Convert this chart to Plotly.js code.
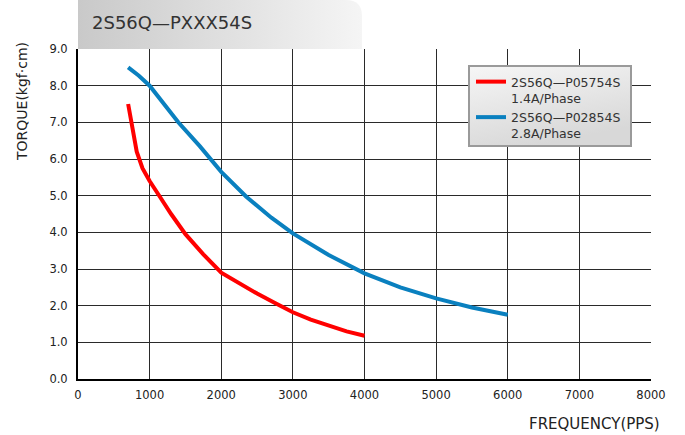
<!DOCTYPE html>
<html>
<head>
<meta charset="utf-8">
<script src="https://cdn.plot.ly/plotly-3.0.1.min.js"></script>
<style>html,body{margin:0;padding:0;background:#fff;}#chart{width:685px;height:435px;}</style>
</head>
<body>
<div id="chart"></div>
<script>
// ---- data ----
const chartTitle = "2S56Q\u2014PXXX54S";
const series1Name = "2S56Q\u2014P05754S<br>1.4A/Phase";
const series2Name = "2S56Q\u2014P02854S<br>2.8A/Phase";
const redX = [700, 760, 820, 900, 1000, 1150, 1300, 1500, 1750, 2000, 2250, 2500, 2750, 3000, 3250, 3500, 3750, 4000];
const redY = [7.5, 6.85, 6.2, 5.75, 5.4, 4.95, 4.5, 3.95, 3.4, 2.9, 2.6, 2.33, 2.07, 1.82, 1.62, 1.45, 1.3, 1.18];
const blueX = [700, 850, 1000, 1200, 1400, 1700, 2000, 2350, 2700, 3000, 3500, 4000, 4500, 5000, 5500, 6000];
const blueY = [8.5, 8.27, 8.0, 7.5, 7.0, 6.35, 5.65, 4.97, 4.4, 3.97, 3.38, 2.88, 2.5, 2.2, 1.95, 1.75];
const xTicks = [0, 1000, 2000, 3000, 4000, 5000, 6000, 7000, 8000];
const yTicks = [0, 1, 2, 3, 4, 5, 6, 7, 8, 9];
const yTickText = ["0.0", "1.0", "2.0", "3.0", "4.0", "5.0", "6.0", "7.0", "8.0", "9.0"];

// ---- decorations ----
function svgUri(s){ return "data:image/svg+xml;utf8," + encodeURIComponent(s); }
const tabSvg = '<svg xmlns="http://www.w3.org/2000/svg" width="284" height="49" viewBox="0 0 284 49">' +
  '<defs><linearGradient id="g" x1="0" y1="0" x2="1" y2="0"><stop offset="0" stop-color="#c9c9c9"/><stop offset="1" stop-color="#f5f5f5"/></linearGradient></defs>' +
  '<path d="M0 0 H268 Q284 0 284 16 V49 H0 Z" fill="url(#g)"/></svg>';
const legSvg = '<svg xmlns="http://www.w3.org/2000/svg" width="164" height="82" viewBox="0 0 164 82">' +
  '<defs><linearGradient id="h" x1="0" y1="0" x2="0.4" y2="1"><stop offset="0" stop-color="#f6f6f6"/><stop offset="1" stop-color="#d8d8d8"/></linearGradient></defs>' +
  '<rect x="1" y="1" width="162" height="80" fill="url(#h)" stroke="#9a9a9a" stroke-width="2"/></svg>';

const L = 78, R = 651, T = 49, B = 379;
const px = v => (v - L) / (R - L);
const py = v => (B - v) / (B - T);

const font = "DejaVu Sans, sans-serif";
const data = [
  {x: redX, y: redY, name: series1Name, type: "scatter", mode: "lines",
   line: {color: "#ff0000", width: 4}},
  {x: blueX, y: blueY, name: series2Name, type: "scatter", mode: "lines",
   line: {color: "#0a80bf", width: 4}}
];
const layout = {
  width: 685, height: 435,
  margin: {l: L, r: 685 - R, t: T, b: 435 - B},
  paper_bgcolor: "#ffffff", plot_bgcolor: "#ffffff",
  font: {family: font, color: "#222", size: 11.5},
  showlegend: true,
  xaxis: {range: [0, 8000], tickvals: xTicks, ticktext: xTicks.map(String),
    showgrid: true, gridcolor: "#2a2a2a", gridwidth: 1,
    showline: true, linecolor: "#000", linewidth: 2, mirror: false,
    zeroline: false, ticks: "", ticklabelstandoff: 4,
    tickfont: {family: font, size: 11.5, color: "#222"}},
  yaxis: {range: [0, 9], tickvals: yTicks, ticktext: yTickText,
    showgrid: true, gridcolor: "#2a2a2a", gridwidth: 1,
    showline: true, linecolor: "#000", linewidth: 2,
    zeroline: false, ticks: "", ticklabelstandoff: 6,
    tickfont: {family: font, size: 11.5, color: "#222"}},
  legend: {x: px(471), y: py(67), xanchor: "left", yanchor: "top",
    bgcolor: "rgba(0,0,0,0)", borderwidth: 0, valign: "top",
    font: {family: font, size: 12.5, color: "#333"}, tracegroupgap: 4},
  images: [
    {source: svgUri(tabSvg), xref: "paper", yref: "paper", x: 0, y: py(0),
     sizex: px(362) - px(78), sizey: py(0) - py(49), sizing: "stretch",
     xanchor: "left", yanchor: "top", layer: "below"},
    {source: svgUri(legSvg), xref: "paper", yref: "paper", x: px(468), y: py(65),
     sizex: px(632) - px(468), sizey: py(65) - py(147), sizing: "stretch",
     xanchor: "left", yanchor: "top", layer: "above"}
  ],
  annotations: [
    {text: chartTitle, xref: "paper", yref: "paper", x: px(90), y: py(22),
     xanchor: "left", yanchor: "middle", showarrow: false,
     font: {family: font, size: 18, color: "#333"}},
    {text: "TORQUE(kgf\u00b7cm)", xref: "paper", yref: "paper", x: px(22), y: py(102),
     xanchor: "center", yanchor: "middle", textangle: -90, showarrow: false,
     font: {family: font, size: 14, color: "#222"}},
    {text: "FREQUENCY(PPS)", xref: "paper", yref: "paper", x: px(594), y: py(424),
     xanchor: "center", yanchor: "middle", showarrow: false,
     font: {family: font, size: 15, color: "#222"}}
  ]
};
Plotly.newPlot("chart", data, layout, {displayModeBar: false, staticPlot: true});
</script>
</body>
</html>
